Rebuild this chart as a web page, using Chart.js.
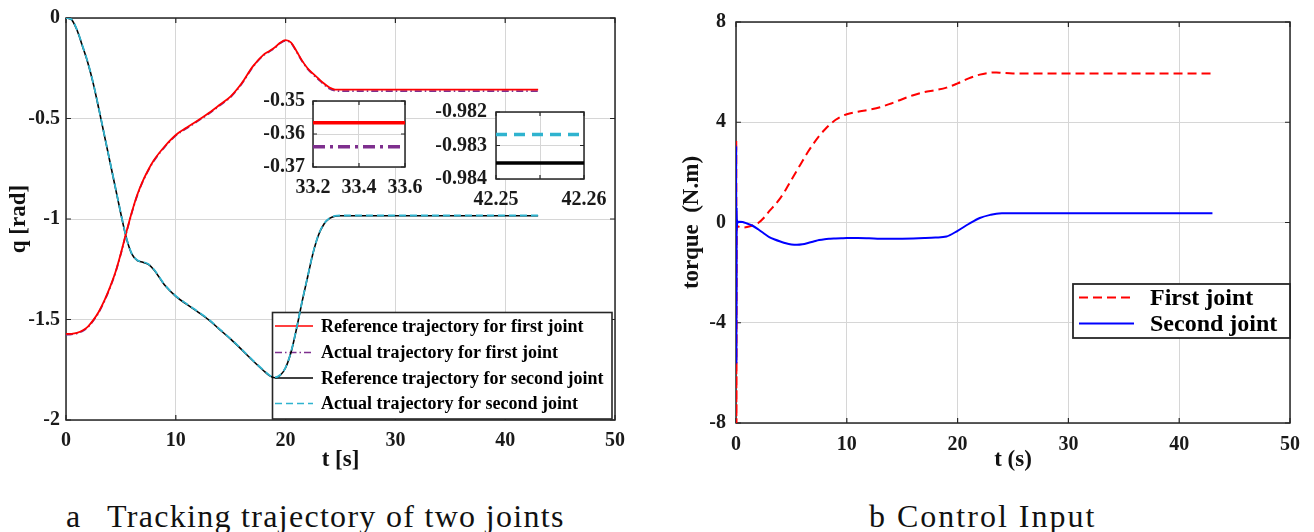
<!DOCTYPE html>
<html><head><meta charset="utf-8">
<script src="https://cdn.jsdelivr.net/npm/chart.js@4.4.1/dist/chart.umd.min.js"></script>
<style>
html,body{margin:0;padding:0;background:#fff;}
#page{position:relative;width:1314px;height:532px;overflow:hidden;background:#fff;}
.box{position:absolute;}
.cap{position:absolute;font-family:'Liberation Serif',serif;font-size:32px;color:#111;white-space:nowrap;line-height:32px;}
</style></head><body>
<div id="page">
 <div class="box" style="left:0;top:0;width:650px;height:480px"><canvas id="cL"></canvas></div>
 <div class="box" style="left:660px;top:0;width:654px;height:480px"><canvas id="cR"></canvas></div>
 <div class="box" style="left:230px;top:80px;width:210px;height:125px"><canvas id="cI1"></canvas></div>
 <div class="box" style="left:410px;top:90px;width:210px;height:130px"><canvas id="cI2"></canvas></div>
 <div class="cap" style="left:66px;top:500px">a</div>
 <div class="cap" style="left:107px;top:500px;letter-spacing:1.3px">Tracking trajectory of two joints</div>
 <div class="cap" style="left:869px;top:500px">b</div>
 <div class="cap" style="left:897px;top:500px;letter-spacing:2px">Control Input</div>
</div>
<script>
// ---------- data ----------
const tA = [0,0.5,1,1.5,2,2.5,3,3.5,4,4.5,5,5.5,6,6.5,7,7.5,8,9,10,11,12,13,14,15,16,17,18,18.5,19,19.5,20,20.5,21,21.5,22,22.5,23,23.5,24,24.5,25,30,35,40,43];
const q1Ref = [-1.572,-1.571,-1.566,-1.555,-1.535,-1.502,-1.46,-1.405,-1.34,-1.265,-1.17,-1.065,-0.965,-0.878,-0.81,-0.755,-0.708,-0.638,-0.582,-0.545,-0.51,-0.473,-0.432,-0.39,-0.325,-0.242,-0.182,-0.165,-0.147,-0.123,-0.11,-0.122,-0.165,-0.212,-0.25,-0.277,-0.302,-0.326,-0.346,-0.356,-0.3566,-0.3566,-0.3566,-0.3566,-0.3566];
const q1Act = [-1.576,-1.574,-1.569,-1.558,-1.538,-1.505,-1.463,-1.408,-1.343,-1.268,-1.173,-1.068,-0.968,-0.881,-0.813,-0.758,-0.711,-0.641,-0.585,-0.548,-0.513,-0.476,-0.435,-0.393,-0.328,-0.245,-0.185,-0.168,-0.150,-0.126,-0.113,-0.125,-0.168,-0.215,-0.253,-0.281,-0.306,-0.331,-0.352,-0.362,-0.3639,-0.3639,-0.3639,-0.3639,-0.3639];
const q2Ref = [0,-0.008,-0.06,-0.14,-0.225,-0.33,-0.455,-0.585,-0.715,-0.845,-0.975,-1.095,-1.175,-1.207,-1.215,-1.226,-1.252,-1.33,-1.385,-1.425,-1.462,-1.502,-1.55,-1.598,-1.65,-1.704,-1.755,-1.778,-1.79,-1.778,-1.74,-1.662,-1.545,-1.412,-1.29,-1.17,-1.08,-1.025,-0.997,-0.986,-0.98352,-0.98352,-0.98352,-0.98352,-0.98352];
const q2Act = [0,-0.007,-0.058,-0.138,-0.223,-0.328,-0.453,-0.583,-0.713,-0.843,-0.973,-1.093,-1.173,-1.205,-1.213,-1.224,-1.25,-1.328,-1.383,-1.423,-1.46,-1.5,-1.548,-1.596,-1.648,-1.702,-1.753,-1.776,-1.788,-1.776,-1.738,-1.66,-1.543,-1.41,-1.288,-1.168,-1.078,-1.023,-0.996,-0.985,-0.98267,-0.98267,-0.98267,-0.98267,-0.98267];

const tB = [0,0.02,0.04,0.06,0.08,0.1,0.15,0.3,0.6,1,1.5,2,2.5,3,3.5,4,4.5,5,5.5,6,6.5,7,7.5,8,8.5,9,9.5,10,11,12,13,14,15,16,17,18,19,20,21,22,23,23.5,24,25,30,35,40,43];
const tau1 = [0,3.3,-10,-0.3,-0.12,-0.15,-0.15,-0.18,-0.2,-0.18,-0.12,-0.02,0.18,0.45,0.7,0.97,1.32,1.7,2.08,2.45,2.82,3.15,3.45,3.7,3.92,4.1,4.23,4.32,4.42,4.5,4.6,4.75,4.92,5.08,5.2,5.28,5.38,5.55,5.75,5.9,5.98,5.99,5.97,5.95,5.95,5.95,5.95,5.95];
const tau2 = [0,3.06,-5.64,0.6,-0.3,0.1,0,0.03,0.02,-0.04,-0.13,-0.27,-0.43,-0.58,-0.68,-0.76,-0.83,-0.875,-0.89,-0.87,-0.82,-0.76,-0.7,-0.665,-0.65,-0.64,-0.63,-0.62,-0.62,-0.63,-0.645,-0.65,-0.645,-0.635,-0.62,-0.6,-0.56,-0.33,-0.06,0.18,0.31,0.35,0.365,0.37,0.37,0.37,0.37,0.37];

const tIn1 = [33.2, 33.6];
const q1RefIn = [-0.3566, -0.3566];
const q1ActIn = [-0.3639, -0.3639];
const tIn2 = [42.25, 42.26];
const q2RefIn = [-0.98352, -0.98352];
const q2ActIn = [-0.98267, -0.98267];

const xTicksA = [0,10,20,30,40,50];
const yTicksA = [-2,-1.5,-1,-0.5,0];
const xTicksB = [0,10,20,30,40,50];
const yTicksB = [-8,-4,0,4,8];
const xTicksIn1 = [33.2,33.4,33.6];
const yTicksIn1 = [-0.37,-0.36,-0.35];
const xTicksIn2 = [42.25,42.255,42.26];
const xLabelsIn2 = ['42.25','','42.26'];
const yTicksIn2 = [-0.984,-0.983,-0.982];

const labelsA = ['Reference trajectory for first joint','Actual trajectory for first joint','Reference trajectory for second joint','Actual trajectory for second joint'];
const labelsB = ['First joint','Second joint'];

// ---------- helpers ----------
const FONT = "'Liberation Serif','Times New Roman',serif";
const AX = '#262626', GRID = '#d6d6d6';
const RED='#ff0000', PURPLE='#7e2f8e', BLACK='#000000', CYAN='#2fb3cf', BLUE='#0000ff';
Chart.defaults.font.family = FONT;

function xy(t, v){ return t.map((x,i)=>({x:x, y:v[i]})); }
function fmt(v){ return String(+v.toFixed(4)); }
function scale(o){
  return {
    type:'linear', min:o.min, max:o.max,
    afterBuildTicks: sc => { sc.ticks = o.ticks.map(v=>({value:v})); },
    afterFit: sc => { if (o.horiz) sc.height = o.fit; else sc.width = o.fit; },
    grid:{color:GRID, lineWidth:1, drawTicks:false},
    border:{display:false},
    ticks:{autoSkip:false, maxRotation:0, minRotation:0, padding:o.pad, color:'#1a1a1a',
      font:{family:FONT, size:o.size, weight:'bold'},
      callback:(v,i)=> o.labels ? o.labels[i] : fmt(v)},
    title: o.title ? {display:true, text:o.title, color:'#111', font:{family:FONT,size:23,weight:'bold'}, padding:o.titlePad} : {display:false}
  };
}
const framePlugin = {
  id:'frame',
  beforeDatasetsDraw(chart, args, o){
    const {ctx, chartArea:a, scales} = chart;
    const L = o.tick || 5;
    ctx.save();
    ctx.strokeStyle = AX;
    ctx.beginPath();
    scales.x.ticks.forEach(t => { const p = scales.x.getPixelForValue(t.value);
      ctx.moveTo(p, a.bottom); ctx.lineTo(p, a.bottom - L); ctx.moveTo(p, a.top); ctx.lineTo(p, a.top + L); });
    scales.y.ticks.forEach(t => { const p = scales.y.getPixelForValue(t.value);
      ctx.moveTo(a.left, p); ctx.lineTo(a.left + L, p); ctx.moveTo(a.right, p); ctx.lineTo(a.right - L, p); });
    ctx.lineWidth = 1.2; ctx.stroke();
    ctx.lineWidth = o.lw || 1.5;
    ctx.strokeRect(a.left, a.top, a.right - a.left, a.bottom - a.top);
    ctx.restore();
  }
};
const whitePlugin = {
  id:'whiteArea',
  beforeDraw(chart){
    const {ctx, chartArea:a} = chart;
    ctx.save(); ctx.fillStyle='#fff'; ctx.fillRect(a.left, a.top, a.right-a.left, a.bottom-a.top); ctx.restore();
  }
};
const legendPlugin = {
  id:'boxLegend',
  beforeDatasetsDraw(chart, args, o){
    if (!o.items) return;
    const ctx = chart.ctx;
    ctx.save();
    ctx.fillStyle = '#fff'; ctx.fillRect(o.x, o.y, o.w, o.h);
    ctx.lineWidth = o.lw; ctx.strokeStyle = AX; ctx.strokeRect(o.x, o.y, o.w, o.h);
    o.items.forEach((k, i) => {
      const ds = chart.data.datasets[k]; const y = o.rowY[i];
      ctx.beginPath(); ctx.setLineDash(ds.borderDash || []);
      ctx.strokeStyle = ds.borderColor; ctx.lineWidth = o.sampleW;
      ctx.moveTo(o.x1, y); ctx.lineTo(o.x2, y); ctx.stroke();
      ctx.setLineDash([]);
      ctx.fillStyle = '#000'; ctx.font = o.font; ctx.textBaseline = 'middle'; ctx.textAlign = 'left';
      ctx.fillText(ds.label, o.tx, y + 1);
    });
    ctx.restore();
  }
};
function line(label, data, color, width, dash, order){
  return {label, data, borderColor:color, backgroundColor:color, borderWidth:width, borderDash:dash,
    pointRadius:0, fill:false, cubicInterpolationMode:'monotone', order};
}
const base = {responsive:true, maintainAspectRatio:false, animation:false, devicePixelRatio:1,
  events:[]};

// ---------- left chart ----------
new Chart(document.getElementById('cL'), {
  type:'line',
  data:{datasets:[
    line(labelsA[0], xy(tA,q1Ref), RED, 1.8, [], 2),
    line(labelsA[1], xy(tA,q1Act), PURPLE, 1.8, [7,3,1.5,3], 3),
    line(labelsA[2], xy(tA,q2Ref), BLACK, 1.6, [], 4),
    line(labelsA[3], xy(tA,q2Act), CYAN, 1.8, [7,4], 1)
  ]},
  options:{...base,
    layout:{padding:{left:0, top:15, right:35, bottom:0}},
    scales:{
      x: scale({min:0,max:50,ticks:xTicksA,horiz:true,fit:60,pad:9,size:20,title:'t [s]',titlePad:{top:0,bottom:6}}),
      y: scale({min:-2,max:0,ticks:yTicksA,horiz:false,fit:66,pad:6,size:20,title:'q [rad]',titlePad:{top:5,bottom:0}})
    },
    plugins:{legend:{display:false}, tooltip:{enabled:false},
      frame:{lw:1.5, tick:5},
      boxLegend:{items:[0,1,2,3], x:272.5, y:312.5, w:339.5, h:106.5, rowY:[326,352.5,378,403.5],
        x1:275, x2:313, tx:321, font:"bold 18px 'Liberation Serif'", lw:1.6, sampleW:1.5}}
  },
  plugins:[framePlugin, legendPlugin]
});

// ---------- right chart ----------
new Chart(document.getElementById('cR'), {
  type:'line',
  data:{datasets:[
    line(labelsB[0], xy(tB,tau1), RED, 2, [9,5], 2),
    line(labelsB[1], xy(tB,tau2), BLUE, 2, [], 1)
  ]},
  options:{...base,
    layout:{padding:{left:0, top:13, right:24, bottom:0}},
    scales:{
      x: scale({min:0,max:50,ticks:xTicksB,horiz:true,fit:57,pad:10,size:20,title:'t (s)',titlePad:{top:0,bottom:6}}),
      y: scale({min:-8,max:8,ticks:yTicksB,horiz:false,fit:76,pad:10,size:20,title:'torque  (N.m)',titlePad:{top:18,bottom:0}})
    },
    plugins:{legend:{display:false}, tooltip:{enabled:false},
      frame:{lw:1.5, tick:5},
      boxLegend:{items:[0,1], x:413, y:284, w:217, h:54, rowY:[297.5,323.5],
        x1:419, x2:474, tx:490, font:"bold 24px 'Liberation Serif'", lw:1.8, sampleW:2}}
  },
  plugins:[framePlugin, legendPlugin]
});

// ---------- inset 1 ----------
new Chart(document.getElementById('cI1'), {
  type:'line',
  data:{datasets:[
    line(labelsA[0], xy(tIn1,q1RefIn), RED, 3.5, [], 1),
    line(labelsA[1], xy(tIn1,q1ActIn), PURPLE, 3.5, [12,5,3,5], 2)
  ]},
  options:{...base,
    layout:{padding:{left:0, top:21, right:35, bottom:0}},
    scales:{
      x: scale({min:33.2,max:33.6,ticks:xTicksIn1,horiz:true,fit:38,pad:9,size:20}),
      y: scale({min:-0.37,max:-0.35,ticks:yTicksIn1,horiz:false,fit:83,pad:8,size:20})
    },
    plugins:{legend:{display:false}, tooltip:{enabled:false}, frame:{lw:1.5, tick:4}}
  },
  plugins:[whitePlugin, framePlugin]
});

// ---------- inset 2 ----------
new Chart(document.getElementById('cI2'), {
  type:'line',
  data:{datasets:[
    line(labelsA[2], xy(tIn2,q2RefIn), BLACK, 3.5, [], 2),
    line(labelsA[3], xy(tIn2,q2ActIn), CYAN, 3.5, [11,7], 1)
  ]},
  options:{...base,
    layout:{padding:{left:0, top:22, right:36, bottom:0}},
    scales:{
      x: scale({min:42.25,max:42.26,ticks:xTicksIn2,labels:xLabelsIn2,horiz:true,fit:41,pad:9,size:20}),
      y: scale({min:-0.984,max:-0.982,ticks:yTicksIn2,horiz:false,fit:86,pad:9,size:20})
    },
    plugins:{legend:{display:false}, tooltip:{enabled:false}, frame:{lw:1.5, tick:4}}
  },
  plugins:[whitePlugin, framePlugin]
});
</script>
</body></html>
